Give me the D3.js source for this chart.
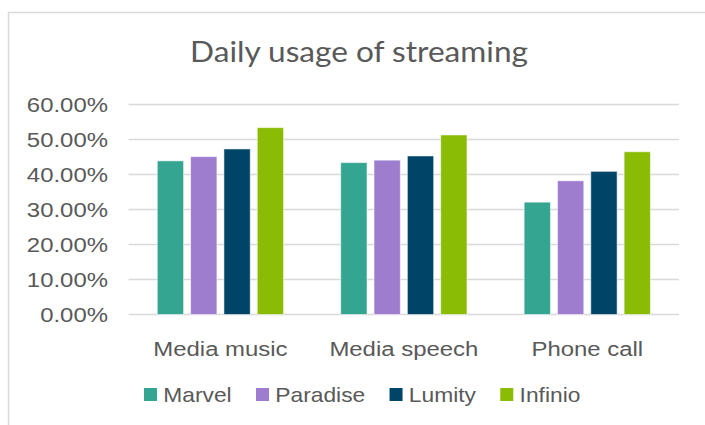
<!DOCTYPE html>
<html><head><meta charset="utf-8">
<script src="https://cdn.jsdelivr.net/npm/d3@7"></script>
<style>html,body{margin:0;padding:0;background:#fff;}svg{display:block;}</style>
</head><body>
<svg id="c" width="705" height="425"></svg>
<script>
const categories = ["Media music", "Media speech", "Phone call"];
const seriesNames = ["Marvel", "Paradise", "Lumity", "Infinio"];
const marvel   = [0.439, 0.434, 0.321];
const paradise = [0.451, 0.441, 0.382];
const lumity   = [0.473, 0.453, 0.409];
const infinio  = [0.534, 0.513, 0.465];
const yTicks = [0, 0.1, 0.2, 0.3, 0.4, 0.5, 0.6];
const colors = ["#34A591", "#9E7CCE", "#004567", "#8BBC05"];
const title = "Daily usage of streaming";

const seriesValues = [marvel, paradise, lumity, infinio];
const SX = 1.14;
const FONT = "'Liberation Sans', Arial, sans-serif";
const TXT = "#595959";

const svg = d3.select("#c");
svg.append("rect").attr("x", 8.5).attr("y", 12.5).attr("width", 800).attr("height", 500)
  .attr("fill", "#fff").attr("stroke", "#d9d9d9").attr("stroke-width", 1.5);

const plotL = 128.7, plotR = 679, plotT = 104.5, plotB = 314.5;
const y = d3.scaleLinear().domain([0, 0.6]).range([plotB, plotT]);
const x0 = d3.scaleBand().domain(categories).range([plotL, plotR]).padding(0);
const groupW = 126.3;
const x1 = d3.scaleBand().domain(seriesNames).range([0, groupW]).paddingInner(0.21).paddingOuter(0);

function stext(parent, x, yy, str, size, anchor, fam, color) {
  const g = parent.append("g").attr("transform", `translate(${x},${yy}) scale(${SX},1)`);
  return g.append("text").attr("x", 0).attr("y", 0).attr("text-anchor", anchor || "start")
    .attr("font-family", fam || FONT).attr("font-size", size).attr("fill", color || TXT).text(str);
}

// gridlines
svg.append("g").selectAll("line").data(yTicks).join("line")
  .attr("x1", plotL).attr("x2", plotR)
  .attr("y1", d => y(d)).attr("y2", d => y(d))
  .attr("stroke", "#d9d9d9").attr("stroke-width", 1.4);

// y labels
const yl = svg.append("g");
yTicks.forEach(t => stext(yl, 108, y(t) + 7.5, d3.format(".2%")(t), 21, "end"));

// bars
const bars = svg.append("g");
categories.forEach((c, ci) => {
  const gx = x0(c) + (x0.bandwidth() - groupW) / 2;
  seriesNames.forEach((s, si) => {
    const v = seriesValues[si][ci];
    bars.append("rect")
      .attr("x", gx + x1(s)).attr("width", x1.bandwidth())
      .attr("y", y(v)).attr("height", y(0) - y(v))
      .attr("fill", colors[si]).attr("stroke", "#ffffff").attr("stroke-opacity", 0.55).attr("stroke-width", 1);
  });
});

// category labels
const cl = svg.append("g");
categories.forEach(c => stext(cl, x0(c) + x0.bandwidth() / 2, 356, c, 21, "middle"));

// title
const tg = svg.append("g").attr("transform", "translate(359,62.3)");
const tt = tg.append("text").attr("text-anchor", "middle").attr("font-family", "Lato, 'Open Sans', sans-serif")
  .attr("font-size", 28).attr("fill", TXT).text(title);
const tw = tt.node().getComputedTextLength();
tg.attr("transform", `translate(359,62.3) scale(${338 / tw},1)`);

// legend
const lg = svg.append("g");
let lx = 144;
seriesNames.forEach((s, i) => {
  lg.append("rect").attr("x", lx).attr("y", 388).attr("width", 13).attr("height", 13).attr("fill", colors[i]);
  const t = stext(lg, lx + 19.3, 402, s, 20, "start");
  const w = t.node().getComputedTextLength() * SX;
  lx += 19.3 + w + 24.3;
});
</script>
</body></html>
